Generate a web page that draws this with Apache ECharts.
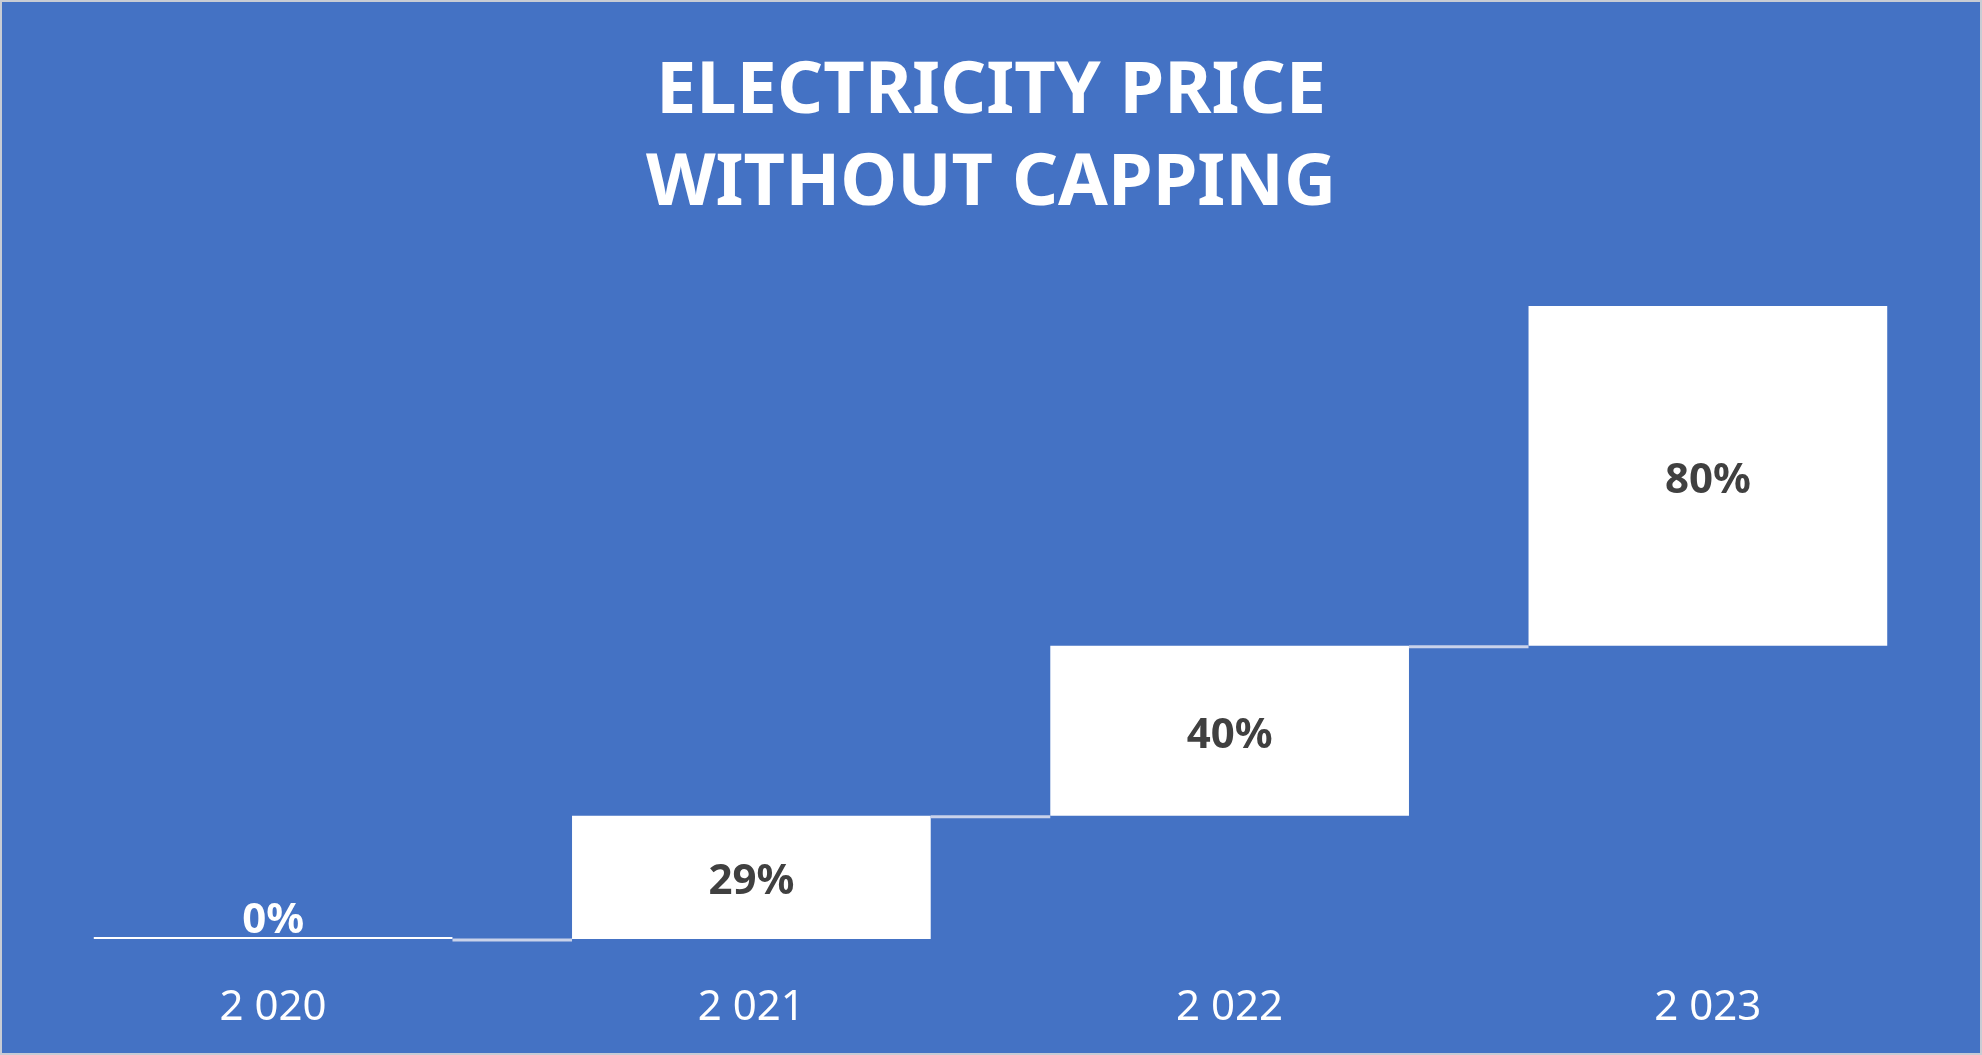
<!DOCTYPE html>
<html>
<head>
<meta charset="utf-8">
<title>Electricity price without capping</title>
<script src="https://cdn.jsdelivr.net/npm/echarts@6/dist/echarts.min.js"></script>
<style>
  html, body { margin: 0; padding: 0; background: #4472C4; }
  #chart { width: 1982px; height: 1055px; }
</style>
</head>
<body>
<div id="chart"></div>
<script>
// data
var years = ['2 020', '2 021', '2 022', '2 023'];
var increase = [0, 29, 40, 80];   // % step of each year

// invisible base of each step = running total before it
var base = [];
var levels = [];
var run = 0;
increase.forEach(function (v) {
    base.push(run);
    run += v;
    levels.push(run);
});

var chart = echarts.init(document.getElementById('chart'));

var option = {
    backgroundColor: '#4472C4',
    title: {
        text: 'ELECTRICITY PRICE\nWITHOUT CAPPING',
        left: 'center',
        top: 41,
        textStyle: {
            color: '#ffffff',
            fontFamily: 'Noto Sans',
            fontWeight: 'bold',
            fontSize: 72,
            lineHeight: 92
        }
    },
    graphic: [{
        type: 'rect',
        shape: { x: 1, y: 1, width: 1980, height: 1053 },
        style: { fill: 'none', stroke: '#C8CCD4', lineWidth: 2 },
        silent: true
    }],
    grid: { left: 34, right: 35, top: 306, bottom: 116 },
    xAxis: {
        type: 'category',
        data: years,
        axisLine: { show: false },
        axisTick: { show: false },
        axisLabel: {
            color: '#ffffff',
            fontFamily: 'Noto Sans',
            fontSize: 42,
            margin: 48
        }
    },
    yAxis: {
        type: 'value',
        min: 0,
        max: 149,
        show: false,
        splitLine: { show: false }
    },
    series: [
        {
            name: 'base',
            type: 'bar',
            stack: 'w',
            barWidth: '75%',
            silent: true,
            itemStyle: { color: 'transparent' },
            data: base
        },
        {
            name: 'increase',
            type: 'bar',
            stack: 'w',
            barWidth: '75%',
            barMinHeight: 2,
            itemStyle: { color: '#ffffff' },
            label: {
                show: true,
                position: 'inside',
                offset: [0, 5],
                formatter: '{c}%',
                color: '#404040',
                fontFamily: 'Noto Sans',
                fontWeight: 'bold',
                fontSize: 42
            },
            data: increase.map(function (v) {
                if (v === 0) {
                    return { value: v, label: { position: 'top', offset: [0, 0], color: '#ffffff', distance: -5 } };
                }
                return v;
            })
        },
        {
            name: 'connector',
            type: 'custom',
            silent: true,
            renderItem: function (params, api) {
                var a = api.coord([api.value(0), api.value(1)]);
                var b = api.coord([api.value(0) + 1, api.value(1)]);
                var half = api.size([1, 0])[0] * 0.375;
                return {
                    type: 'line',
                    shape: { x1: a[0] + half, y1: a[1] + 1, x2: b[0] - half, y2: b[1] + 1 },
                    style: { stroke: '#C9D2EA', lineWidth: 3 }
                };
            },
            data: levels.slice(0, levels.length - 1).map(function (l, i) { return [i, l]; }),
            z: 3
        }
    ]
};

chart.setOption(option);
</script>
</body>
</html>
